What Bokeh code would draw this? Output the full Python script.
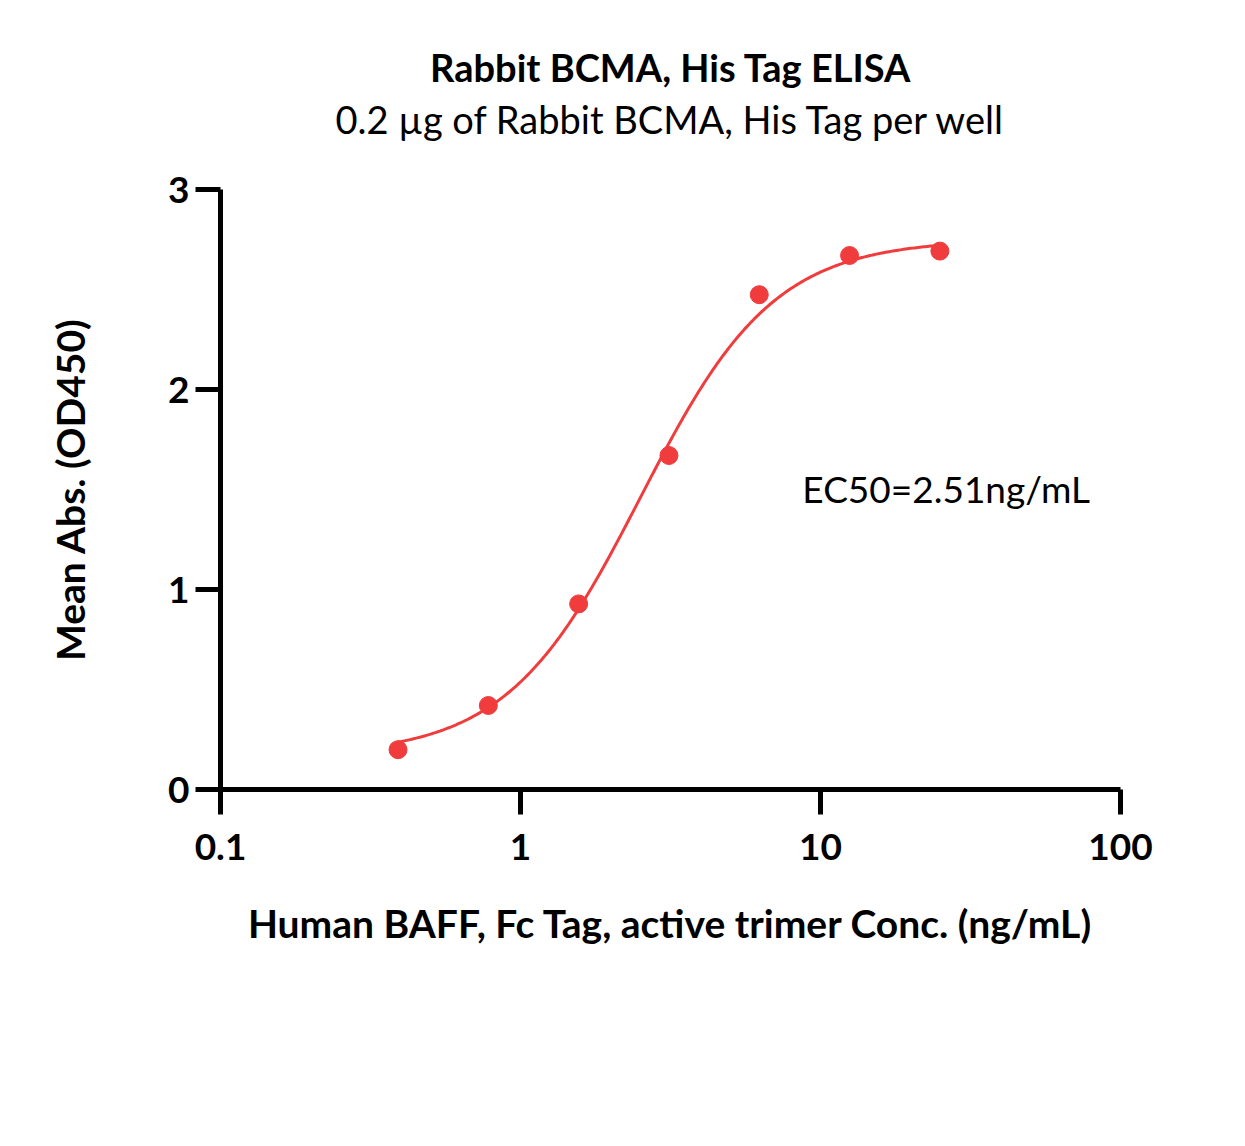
import numpy as np
from bokeh.plotting import figure
from bokeh.layouts import column
from bokeh.models import Range1d, FixedTicker, Label, CustomJSTickFormatter
from bokeh.embed import file_html
from bokeh.resources import INLINE

# ---- data ----
conc = [0.390625, 0.78125, 1.5625, 3.125, 6.25, 12.5, 25.0]
od450 = [0.199, 0.42, 0.928, 1.67, 2.474, 2.67, 2.692]

# 4PL fit parameters (EC50 as reported)
fit_bottom = 0.17
fit_top = 2.75
fit_ec50 = 2.51
fit_hill = 1.95

x_ticks = [0.1, 1, 10, 100]
y_ticks = [0, 1, 2, 3]

title_text = "Rabbit BCMA, His Tag ELISA"
subtitle_text = "0.2 \u00b5g of Rabbit BCMA, His Tag per well"
x_label = "Human BAFF, Fc Tag, active trimer Conc. (ng/mL)"
y_label = "Mean Abs. (OD450)"
ec50_text = "EC50=2.51ng/mL"

RED = "#F03C3C"
FONT = "Lato"
W = 1237
HEAD_H = 150

# ---- header (title + subtitle) as its own small svg figure ----
head = figure(width=W, height=HEAD_H, x_range=Range1d(0, W), y_range=Range1d(HEAD_H, 0),
              output_backend="svg", toolbar_location=None,
              x_axis_location=None, y_axis_location=None,
              min_border=0)
head.title.visible = False
head.outline_line_color = None
head.xgrid.visible = False
head.ygrid.visible = False
head.add_layout(Label(x=619, y=66, text=title_text, text_font=FONT,
                      text_font_style="bold", text_font_size="38px",
                      text_align="center", text_baseline="middle", text_color="black"))
head.add_layout(Label(x=619, y=118, text=subtitle_text, text_font=FONT,
                      text_font_size="38px", text_align="center",
                      text_baseline="middle", text_color="black"))

# fitted curve from the 4PL parameters
xc = np.logspace(np.log10(conc[0]), np.log10(conc[-1]), 300)
r = (xc / fit_ec50) ** fit_hill
yc = fit_bottom + (fit_top - fit_bottom) * r / (1 + r)

p = figure(width=W, height=1138 - HEAD_H, x_axis_type="log",
           x_range=Range1d(0.1, 100), y_range=Range1d(0, 3),
           output_backend="svg", toolbar_location=None,
           min_border_left=220, min_border_right=117,
           min_border_top=189 - HEAD_H, min_border_bottom=349)
p.title.visible = False
p.outline_line_color = None
p.xgrid.visible = False
p.ygrid.visible = False
p.background_fill_color = "white"
p.border_fill_color = "white"

p.line(xc, yc, line_color=RED, line_width=3)
p.scatter(conc, od450, size=18, fill_color=RED, line_color=RED)

for ax in (p.xaxis[0], p.yaxis[0]):
    ax.axis_line_width = 5
    ax.axis_line_color = "black"
    ax.major_tick_line_width = 5
    ax.major_tick_line_color = "black"
    ax.major_tick_out = 25
    ax.major_tick_in = 0
    ax.minor_tick_line_color = None
    ax.major_label_text_font = FONT
    ax.major_label_text_font_style = "bold"
    ax.major_label_text_font_size = "37px"
    ax.major_label_text_color = "black"
    ax.axis_label_text_font = FONT
    ax.axis_label_text_font_style = "bold"
    ax.axis_label_text_font_size = "39px"
    ax.axis_label_text_color = "black"

p.xaxis.ticker = FixedTicker(ticks=x_ticks)
p.xaxis.formatter = CustomJSTickFormatter(code="return tick.toString();")
p.yaxis.ticker = FixedTicker(ticks=y_ticks)
p.xaxis.major_label_standoff = 19
p.yaxis.major_label_standoff = 6
p.xaxis.axis_label = x_label
p.yaxis.axis_label = y_label
p.xaxis.axis_label_standoff = 37
p.yaxis.axis_label_standoff = 72

p.add_layout(Label(x=8.7, y=1.505, text=ec50_text, text_font=FONT,
                   text_font_size="37px", text_align="left",
                   text_baseline="middle", text_color="black"))

layout = column(head, p, spacing=0)
open("out.html", "w").write(file_html(layout, INLINE))
